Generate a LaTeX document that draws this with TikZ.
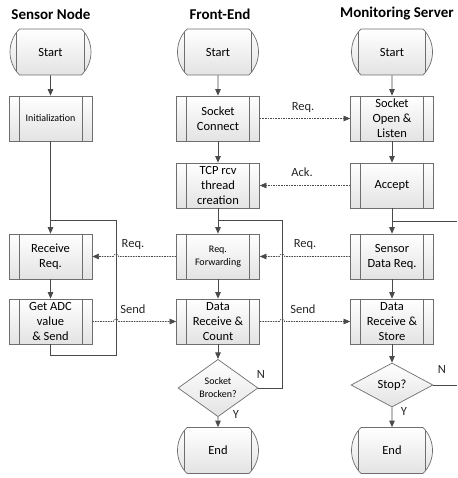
\documentclass[tikz,border=0pt]{standalone}
\usepackage{fontspec}
\setmainfont{Carlito}
\usepackage{tikz}
\usetikzlibrary{arrows.meta,shapes.misc,shapes.geometric,positioning}

\definecolor{linec}{HTML}{4A4A4A}
\definecolor{boxc}{HTML}{6E6E6E}

\tikzset{
  line/.style={draw=linec, line width=0.8pt},
  arr/.style={line, -{Triangle[length=6.5pt,width=5.5pt]}},
  dashline/.style={draw=linec, line width=0.6pt, dash pattern=on 1.6pt off 1pt},
  darr/.style={dashline, -{Triangle[length=6.5pt,width=5.5pt]}},
  title/.style={font=\fontsize{15}{18}\selectfont\bfseries},
  lbl/.style={font=\fontsize{12.5}{14}\selectfont, text=black!85},
  shade/.style={draw=boxc, line width=0.7pt, top color=white, bottom color=black!11},
  bars/.style={path picture={
      \draw[boxc, line width=0.7pt]
        ([xshift=10pt]path picture bounding box.north west) -- ([xshift=10pt]path picture bounding box.south west)
        ([xshift=-10pt]path picture bounding box.north east) -- ([xshift=-10pt]path picture bounding box.south east);}},
  proc/.style={shade, bars, rectangle, minimum width=83pt, minimum height=45pt,
    inner sep=1pt, align=center, font=\fontsize{12.5}{15}\selectfont},
  small/.style={font=\fontsize{10}{13}\selectfont},
  term/.style={shade, bars, rounded rectangle, rounded rectangle arc length=90,
    minimum width=83pt, minimum height=46pt, inner sep=1pt, font=\fontsize{12.5}{15}\selectfont},
  decide/.style={shade, diamond, minimum width=80pt, minimum height=44pt,
    inner sep=0pt, align=center, font=\fontsize{12.5}{15}\selectfont}
}

\begin{document}
\begin{tikzpicture}[x=1pt,y=1pt]
  \useasboundingbox (0,0) rectangle (457,-478);

  % column titles
  \node[title] (tsn) at (51,-14) {Sensor Node};
  \node[title] (tfe) at (220,-14) {Front-End};
  \node[title] (tms) at (397,-14) {Monitoring Server};

  % sensor node
  \node[term] (snstart) at (50.5,-52) {Start};
  \node[proc,small] (sninit) at (50.5,-118.5) {Initialization};
  \node[proc] (snrecv) at (50.5,-256.5) {Receive\\Req.};
  \node[proc] (snadc) at (50.5,-321.5) {Get ADC\\value\\\& Send};

  % front-end
  \node[term] (festart) at (218,-52) {Start};
  \node[proc] (feconn) at (218,-118.5) {Socket\\Connect};
  \node[proc] (fetcp) at (218,-185.5) {TCP rcv\\thread\\creation};
  \node[proc,small] (fefwd) at (218,-256.5) {Req.\\Forwarding};
  \node[proc] (ferecv) at (218,-321.5) {Data\\Receive \&\\Count};
  \node[decide,font=\fontsize{10}{13}\selectfont] (fechk) at (218,-388) {Socket\\Brocken?};
  \node[term] (feend) at (218,-450.5) {End};

  % monitoring server
  \node[term] (msstart) at (392,-52) {Start};
  \node[proc] (msopen) at (392,-118.5) {Socket\\Open \&\\Listen};
  \node[proc] (msaccept) at (392,-185.5) {Accept};
  \node[proc] (msreq) at (392,-256.5) {Sensor\\Data Req.};
  \node[proc] (msstore) at (392,-321.5) {Data\\Receive \&\\Store};
  \node[decide,minimum width=82pt] (msstop) at (392,-385) {Stop?};
  \node[term] (msend) at (392,-450.5) {End};

  % loop corners
  \coordinate (snloop) at (116,-220);
  \coordinate (feloop) at (282,-220);
  \coordinate (msloop) at (457,-221);

  % flow
  \draw[arr] (snstart) -- (sninit);
  \draw[arr] (sninit) -- (snrecv);
  \draw[arr] (snrecv) -- (snadc);
  \draw[line] (snadc.south) -- ++(0,-11) -| (snloop) -- (snrecv.north |- snloop);

  \draw[arr] (festart) -- (feconn);
  \draw[arr] (feconn) -- (fetcp);
  \draw[arr] (fetcp) -- (fefwd);
  \draw[arr] (fefwd) -- (ferecv);
  \draw[arr] (ferecv) -- (fechk);
  \draw[arr] (fechk) -- (feend);
  \draw[line] (fechk.east) -| (feloop) -- (fefwd.north |- feloop);

  \draw[arr] (msstart) -- (msopen);
  \draw[arr] (msopen) -- (msaccept);
  \draw[arr] (msaccept) -- (msreq);
  \draw[arr] (msreq) -- (msstore);
  \draw[arr] (msstore) -- (msstop);
  \draw[arr] (msstop) -- (msend);
  \draw[line] (msstop.east) -- (msstop.east -| msloop);
  \draw[line] (msreq.north |- msloop) -- (msloop);

  % messages
  \draw[darr] (feconn) -- (msopen);
  \draw[darr] (msaccept) -- (fetcp);
  \draw[darr] (msreq.west) -- ([xshift=2.5pt]feloop |- msreq.west)
    arc[start angle=0,end angle=180,radius=2.5pt] -- (fefwd.east);
  \draw[darr] (fefwd.west) -- ([xshift=2.5pt]snloop |- fefwd.west)
    arc[start angle=0,end angle=180,radius=2.5pt] -- (snrecv.east);
  \draw[darr] (snadc.east) -- ([xshift=-2.5pt]snloop |- snadc.east)
    arc[start angle=180,end angle=0,radius=2.5pt] -- (ferecv.west);
  \draw[darr] (ferecv.east) -- ([xshift=-2.5pt]feloop |- ferecv.east)
    arc[start angle=180,end angle=0,radius=2.5pt] -- (msstore.west);

  \node[lbl] (lreqa) at (303,-107) {Req.};
  \node[lbl] (lack) at (302,-172) {Ack.};
  \node[lbl] (lreqb) at (305,-244) {Req.};
  \node[lbl] (lreqc) at (133,-244) {Req.};
  \node[lbl] (lsenda) at (133,-309) {Send};
  \node[lbl] (lsendb) at (303,-309) {Send};

  \node[lbl] (lnfe) at (261,-374) {N};
  \node[lbl] (lyfe) at (236,-414) {Y};
  \node[lbl] (lnms) at (442,-369) {N};
  \node[lbl] (lyms) at (404,-411) {Y};
\end{tikzpicture}
\end{document}
